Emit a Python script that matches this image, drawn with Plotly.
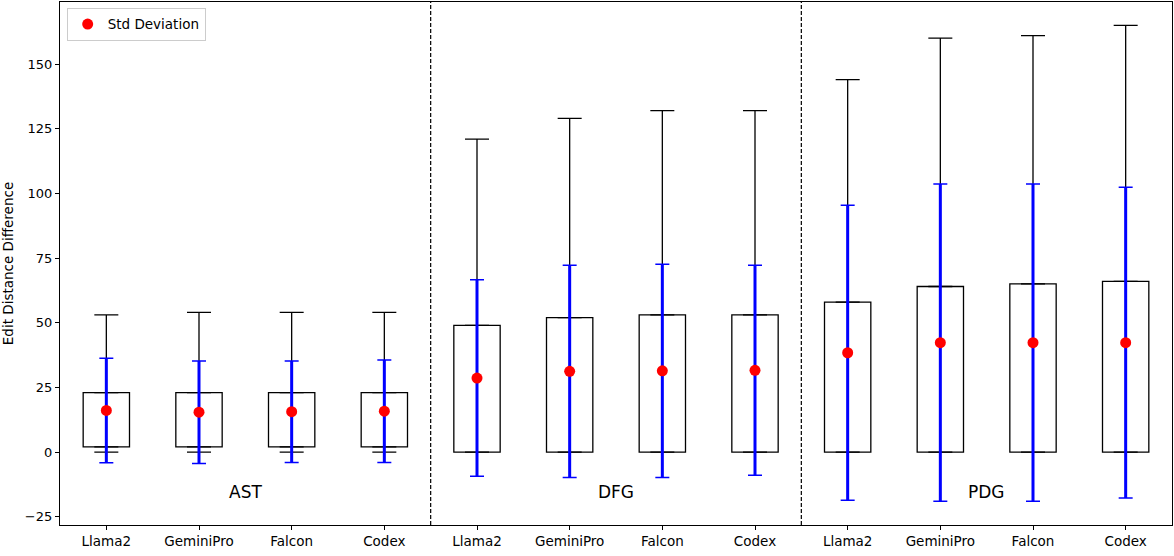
import plotly.graph_objects as go

groups = ["AST", "DFG", "PDG"]
models = ["Llama2", "GeminiPro", "Falcon", "Codex"]
categories = models * 3

q1 = [2, 2, 2, 2, 0, 0, 0, 0, 0, 0, 0, 0]
q3 = [23, 23, 23, 23, 49, 52, 53, 53, 58, 64, 65, 66]
whisk_low = [0, 0, 0, 0, 0, 0, 0, 0, 0, 0, 0, 0]
whisk_high = [53, 54, 54, 54, 121, 129, 132, 132, 144, 160, 161, 165]
means = [16.1, 15.4, 15.6, 15.8, 28.6, 31.2, 31.4, 31.6, 38.4, 42.3, 42.3, 42.3]
stds = [20.2, 19.8, 19.6, 19.8, 38.0, 41.0, 41.2, 40.6, 57.0, 61.3, 61.3, 60.1]

pos = list(range(1, len(categories) + 1))
n = len(models)

fig = go.Figure()

# boxes
fig.add_trace(go.Bar(
    x=pos, base=q1, y=[b - a for a, b in zip(q1, q3)], width=0.5,
    marker=dict(color="rgba(0,0,0,0)", line=dict(color="black", width=1.3)),
    showlegend=False, hoverinfo="skip"))

# upper whiskers
fig.add_trace(go.Scatter(
    x=pos, y=q3, mode="markers",
    marker=dict(size=1, color="rgba(0,0,0,0)"),
    error_y=dict(type="data", symmetric=False,
                 array=[h - t for h, t in zip(whisk_high, q3)],
                 arrayminus=[0] * len(pos), color="black", thickness=1.3, width=12),
    showlegend=False, hoverinfo="skip"))

# lower whiskers
fig.add_trace(go.Scatter(
    x=pos, y=q1, mode="markers",
    marker=dict(size=1, color="rgba(0,0,0,0)"),
    error_y=dict(type="data", symmetric=False,
                 array=[0] * len(pos),
                 arrayminus=[a - l for a, l in zip(q1, whisk_low)],
                 color="black", thickness=1.3, width=12),
    showlegend=False, hoverinfo="skip"))

# green mean triangles (box plot means)
fig.add_trace(go.Scatter(
    x=pos, y=means, mode="markers",
    marker=dict(symbol="triangle-up", size=8, color="green"),
    showlegend=False, hoverinfo="skip"))

# thin caps of std error bars
fig.add_trace(go.Scatter(
    x=pos, y=means, mode="markers",
    marker=dict(size=1, color="rgba(0,0,0,0)"),
    error_y=dict(type="data", array=stds, color="blue", thickness=1.5, width=7),
    showlegend=False, hoverinfo="skip"))

# mean +/- std (thick line, no caps)
fig.add_trace(go.Scatter(
    x=pos, y=means, mode="markers", name="Std Deviation",
    marker=dict(size=11, color="red"),
    error_y=dict(type="data", array=stds, color="blue", thickness=3, width=0)))

shapes = []
for g in range(1, len(groups)):
    xv = g * n + 0.5
    shapes.append(dict(type="line", xref="x", yref="paper", x0=xv, x1=xv, y0=0, y1=1,
                       line=dict(color="black", width=1.2, dash="4px,2px")))

annotations = []
for i, g in enumerate(groups):
    annotations.append(dict(x=i * n + (n + 1) / 2, y=-15.5, xref="x", yref="y", text=g,
                            showarrow=False, font=dict(size=17, color="black")))

fig.update_layout(
    width=1174, height=556,
    margin=dict(l=60, r=2, t=2, b=31),
    plot_bgcolor="white", paper_bgcolor="white",
    font=dict(family="DejaVu Sans", size=13.5, color="black"),
    shapes=shapes, annotations=annotations,
    showlegend=True,
    legend=dict(x=0.006, y=0.989, xanchor="left", yanchor="top",
                bordercolor="#cccccc", borderwidth=1, bgcolor="white",
                font=dict(size=13.5)),
)
fig.update_xaxes(range=[0.5, len(pos) + 0.5], tickvals=pos, ticktext=categories,
                 showgrid=False, zeroline=False, showline=True, linecolor="black",
                 linewidth=1.2, mirror=True, ticks="outside", ticklen=4, tickcolor="black",
                 tickfont=dict(size=13.5))
fig.update_yaxes(range=[-28.2, 174], tickvals=[-25, 0, 25, 50, 75, 100, 125, 150],
                 ticktext=["\u221225", "0", "25", "50", "75", "100", "125", "150"],
                 showgrid=False, zeroline=False, showline=True, linecolor="black",
                 linewidth=1.2, mirror=True, ticks="outside", ticklen=4, tickcolor="black",
                 tickfont=dict(size=13),
                 title=dict(text="Edit Distance Difference", standoff=8,
                            font=dict(size=13.5)))

fig.write_html("out.html", config={"displayModeBar": False},
               post_script="document.body.style.margin='0px';")
